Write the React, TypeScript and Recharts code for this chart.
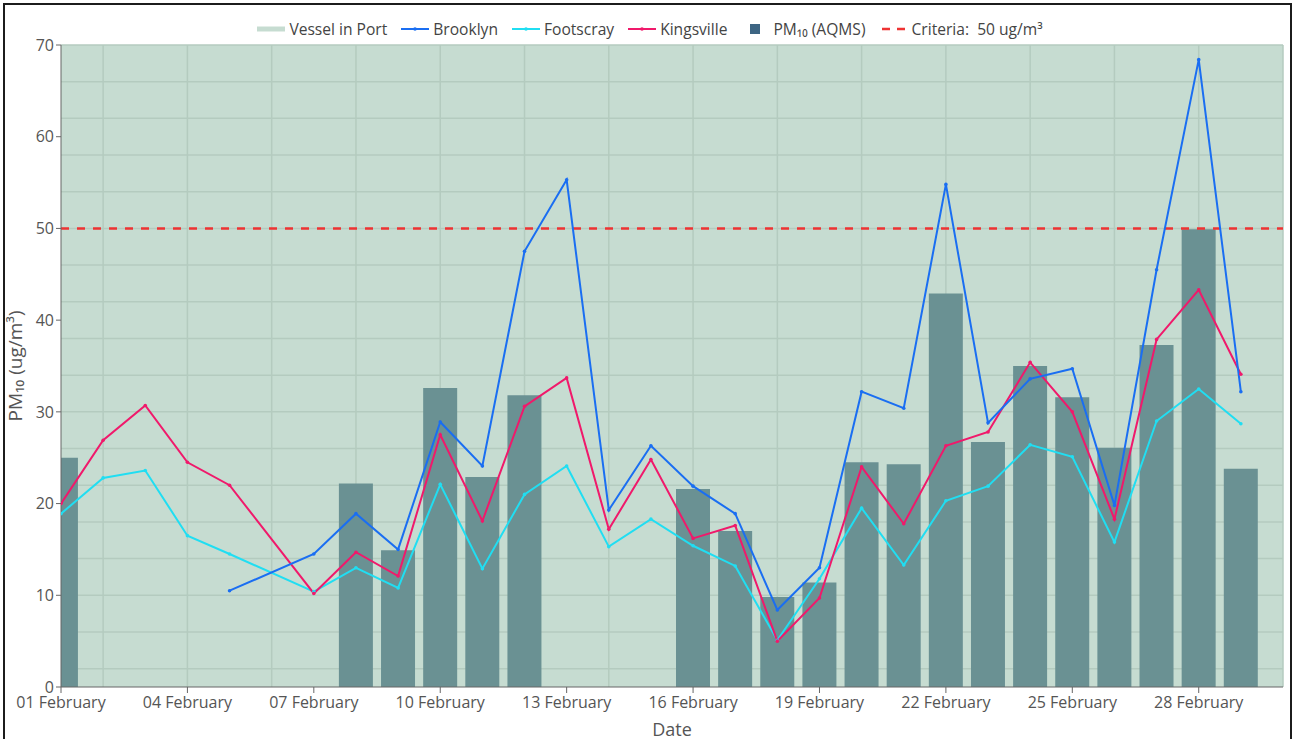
import React from 'react';
import { ComposedChart, Bar, Line, XAxis, YAxis, CartesianGrid, ReferenceLine } from 'recharts';

// day index 0 = 01 February
const dayLabels = [
  '01 February', '02 February', '03 February', '04 February', '05 February', '06 February',
  '07 February', '08 February', '09 February', '10 February', '11 February', '12 February',
  '13 February', '14 February', '15 February', '16 February', '17 February', '18 February',
  '19 February', '20 February', '21 February', '22 February', '23 February', '24 February',
  '25 February', '26 February', '27 February', '28 February', '29 February',
];

const aqms = [25.0, null, null, null, null, null, null, 22.2, 14.9, 32.6, 22.9, 31.8, null, null, null,
  21.6, 17.0, 9.8, 11.4, 24.5, 24.3, 42.9, 26.7, 35.0, 31.6, 26.1, 37.3, 49.9, 23.8];
const brooklyn = [null, null, null, null, 10.5, null, 14.5, 18.9, 15.0, 28.9, 24.1, 47.5, 55.3, 19.3, 26.3,
  21.9, 18.9, 8.4, 13.0, 32.2, 30.4, 54.8, 28.8, 33.6, 34.7, 19.8, 45.5, 68.4, 32.2];
const footscray = [18.9, 22.8, 23.6, 16.5, 14.5, null, 10.4, 13.0, 10.8, 22.1, 12.9, 21.0, 24.1, 15.3, 18.3,
  15.4, 13.2, 5.1, 11.8, 19.5, 13.3, 20.3, 21.9, 26.4, 25.1, 15.8, 29.0, 32.5, 28.7];
const kingsville = [20.0, 26.9, 30.7, 24.5, 22.0, null, 10.2, 14.7, 12.1, 27.5, 18.1, 30.6, 33.7, 17.2, 24.8,
  16.2, 17.6, 5.0, 9.7, 24.0, 17.8, 26.3, 27.8, 35.4, 30.0, 18.3, 37.9, 43.3, 34.1];

const criteria = 50;
const xTicks = [0, 3, 6, 9, 12, 15, 18, 21, 24, 27];
const yTicks = [0, 10, 20, 30, 40, 50, 60, 70];
const hGrid = Array.from({ length: 36 }, (_, i) => i * 2);
const vGrid = Array.from({ length: 30 }, (_, i) => i);

const data = dayLabels.map((label, i) => ({
  day: i,
  label,
  aqms: aqms[i],
  brooklyn: brooklyn[i],
  footscray: footscray[i],
  kingsville: kingsville[i],
}));

const FONT = '"Open Sans", sans-serif';
const C = {
  vessel: '#c6dcd1',
  grid: '#b4cbbf',
  bar: '#6a9193',
  barLegend: '#3d6583',
  brooklyn: '#1a6ef2',
  footscray: '#20def2',
  kingsville: '#f0196b',
  criteria: '#ee3333',
  text: '#555',
};

const legendItems = [
  { name: 'Vessel in Port', kind: 'thick', color: C.vessel },
  { name: 'Brooklyn', kind: 'line', color: C.brooklyn },
  { name: 'Footscray', kind: 'line', color: C.footscray },
  { name: 'Kingsville', kind: 'line', color: C.kingsville },
  { name: 'PM₁₀ (AQMS)', kind: 'square', color: C.barLegend },
  { name: 'Criteria:  50 ug/m³', kind: 'dash', color: C.criteria },
];

function LegendIcon({ kind, color }: { kind: string; color: string }) {
  if (kind === 'square') {
    return (
      <svg width={28} height={12}>
        <rect x={9} y={1} width={10} height={10} fill={color} />
      </svg>
    );
  }
  if (kind === 'dash') {
    return (
      <svg width={28} height={12}>
        <line x1={2} x2={26} y1={6} y2={6} stroke={color} strokeWidth={2.5} strokeDasharray="8 7" />
      </svg>
    );
  }
  return (
    <svg width={28} height={12}>
      <line x1={0} x2={28} y1={6} y2={6} stroke={color} strokeWidth={kind === 'thick' ? 5 : 2} />
      {kind === 'line' && <circle cx={14} cy={6} r={1.8} fill={color} />}
    </svg>
  );
}

function TopLegend() {
  return (
    <div
      style={{
        position: 'absolute', left: 0, top: 18, width: 1300, display: 'flex',
        justifyContent: 'center', alignItems: 'center', gap: 14,
        fontFamily: FONT, fontSize: 15.6, color: '#444', whiteSpace: 'pre',
      }}
    >
      {legendItems.map((it) => (
        <div key={it.name} style={{ display: 'flex', alignItems: 'center', gap: 4 }}>
          <LegendIcon kind={it.kind} color={it.color} />
          <span>{it.name}</span>
        </div>
      ))}
    </div>
  );
}

export default function App() {
  const tickStyle = { fill: C.text, fontSize: 16, fontFamily: FONT };
  return (
    <div style={{ position: 'absolute', left: 0, top: 0, width: 1293, height: 739, background: '#fff', overflow: 'hidden' }}>
      <div style={{ position: 'absolute', left: 3, top: 3, width: 1289, height: 760, border: '2px solid #1c1c1c', boxSizing: 'border-box' }} />
      <TopLegend />
      <div style={{ position: 'absolute', left: 0, top: 0 }}>
        <ComposedChart width={1293} height={739} data={data} margin={{ top: 45, right: 10, bottom: 0, left: 0 }}>
          <CartesianGrid
            fill={C.vessel}
            fillOpacity={1}
            stroke={C.grid}
            strokeWidth={1.5}
            horizontalValues={hGrid}
            verticalValues={vGrid}
          />
          <XAxis
            dataKey="day"
            type="number"
            domain={[0, 29]}
            ticks={xTicks}
            allowDataOverflow
            height={52}
            tickSize={6}
            tickFormatter={(d: number) => dayLabels[d]}
            tick={{ ...tickStyle, dy: 2 }}
            stroke="#666"
            label={{ value: 'Date', position: 'insideBottom', offset: 3, style: { fill: C.text, fontSize: 18, fontFamily: FONT } }}
          />
          <YAxis
            type="number"
            domain={[0, 70]}
            ticks={yTicks}
            width={61}
            tickSize={5}
            tick={tickStyle}
            stroke="#666"
            label={{
              value: 'PM₁₀ (ug/m³)', angle: -90, position: 'insideLeft', offset: 15,
              style: { textAnchor: 'middle', fill: C.text, fontSize: 19, fontFamily: FONT },
            }}
          />
          <Bar dataKey="aqms" fill={C.bar} barSize={34} isAnimationActive={false} />
          <ReferenceLine y={criteria} stroke={C.criteria} strokeWidth={2.5} strokeDasharray="8 8" />
          <Line dataKey="footscray" stroke={C.footscray} strokeWidth={2} connectNulls
            dot={{ r: 1.8, fill: C.footscray, stroke: C.footscray, strokeWidth: 0 }} isAnimationActive={false} />
          <Line dataKey="kingsville" stroke={C.kingsville} strokeWidth={2} connectNulls
            dot={{ r: 1.8, fill: C.kingsville, stroke: C.kingsville, strokeWidth: 0 }} isAnimationActive={false} />
          <Line dataKey="brooklyn" stroke={C.brooklyn} strokeWidth={2} connectNulls
            dot={{ r: 1.8, fill: C.brooklyn, stroke: C.brooklyn, strokeWidth: 0 }} isAnimationActive={false} />
        </ComposedChart>
      </div>
    </div>
  );
}
